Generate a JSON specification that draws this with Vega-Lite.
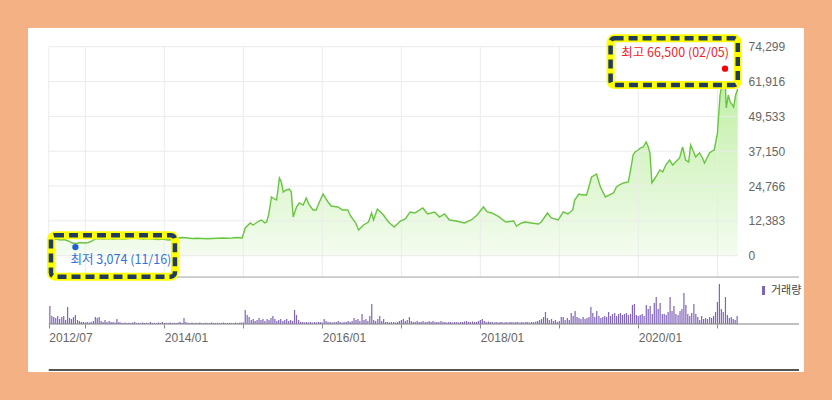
{
  "$schema": "https://vega.github.io/schema/vega-lite/v6.json",
  "width": 776,
  "height": 344,
  "autosize": {"type": "none"},
  "padding": {"left": 28, "top": 28, "right": 28, "bottom": 28},
  "background": "#f4b183",
  "config": {"view": {"fill": "#ffffff", "stroke": null}, "font": "Liberation Sans"},
  "datasets": {
    "price": [
      {"d":"2012-07-16","p":5400},{"d":"2012-08-02","p":5760},{"d":"2012-08-21","p":5940},{"d":"2012-09-08","p":5580},{"d":"2012-09-26","p":5760},{"d":"2012-10-14","p":5230},{"d":"2012-11-02","p":4510},{"d":"2012-11-20","p":4340},{"d":"2012-12-08","p":4690},{"d":"2012-12-27","p":4510},
      {"d":"2013-01-15","p":4690},{"d":"2013-02-02","p":5230},{"d":"2013-02-15","p":5940},{"d":"2013-03-04","p":6110},{"d":"2013-03-27","p":5940},{"d":"2013-04-19","p":6110},{"d":"2013-05-11","p":5940},{"d":"2013-06-04","p":6110},{"d":"2013-06-26","p":5940},{"d":"2013-07-19","p":6110},{"d":"2013-08-11","p":6290},{"d":"2013-09-04","p":6110},{"d":"2013-09-26","p":5940},{"d":"2013-10-19","p":6110},{"d":"2013-11-11","p":5940},{"d":"2013-12-04","p":5760},{"d":"2013-12-27","p":5940},
      {"d":"2014-01-19","p":5580},{"d":"2014-02-10","p":5760},{"d":"2014-03-04","p":6290},{"d":"2014-03-27","p":6470},{"d":"2014-04-19","p":6290},{"d":"2014-05-11","p":6110},{"d":"2014-06-04","p":6190},{"d":"2014-06-26","p":6110},{"d":"2014-07-19","p":6010},{"d":"2014-08-11","p":6110},{"d":"2014-09-04","p":6190},{"d":"2014-09-26","p":6290},{"d":"2014-10-19","p":6190},{"d":"2014-11-11","p":6290},{"d":"2014-12-04","p":6470},{"d":"2014-12-27","p":6290},
      {"d":"2015-01-10","p":9850},{"d":"2015-01-24","p":10910},{"d":"2015-02-02","p":11630},{"d":"2015-02-15","p":10910},{"d":"2015-02-23","p":11270},{"d":"2015-03-08","p":11980},{"d":"2015-03-17","p":12340},{"d":"2015-03-27","p":12690},{"d":"2015-04-10","p":11630},{"d":"2015-04-19","p":11980},{"d":"2015-04-28","p":14470},{"d":"2015-05-02","p":16250},{"d":"2015-05-11","p":20870},{"d":"2015-05-25","p":20160},{"d":"2015-06-04","p":19800},{"d":"2015-06-13","p":25130},{"d":"2015-06-17","p":27620},{"d":"2015-06-26","p":26200},{"d":"2015-07-05","p":22650},{"d":"2015-07-19","p":23360},{"d":"2015-08-02","p":23710},{"d":"2015-08-11","p":22650},{"d":"2015-08-20","p":13760},{"d":"2015-09-04","p":17310},{"d":"2015-09-17","p":18740},{"d":"2015-10-05","p":18020},{"d":"2015-10-19","p":20510},{"d":"2015-11-02","p":18020},{"d":"2015-11-20","p":16250},{"d":"2015-12-04","p":16250},{"d":"2015-12-17","p":18740},
      {"d":"2016-01-05","p":21930},{"d":"2016-01-28","p":19090},{"d":"2016-02-11","p":17670},{"d":"2016-03-13","p":17310},{"d":"2016-04-05","p":16250},{"d":"2016-04-28","p":16250},{"d":"2016-05-11","p":14110},{"d":"2016-06-04","p":11630},{"d":"2016-06-17","p":9140},{"d":"2016-07-10","p":10910},{"d":"2016-08-02","p":11980},{"d":"2016-08-16","p":15180},{"d":"2016-08-25","p":12690},{"d":"2016-09-12","p":16600},{"d":"2016-09-26","p":15540},{"d":"2016-10-10","p":14470},{"d":"2016-11-02","p":11980},{"d":"2016-11-29","p":10200},{"d":"2016-12-27","p":12340},
      {"d":"2017-01-19","p":13050},{"d":"2017-02-10","p":15540},{"d":"2017-03-04","p":15180},{"d":"2017-04-10","p":16960},{"d":"2017-05-02","p":14820},{"d":"2017-06-04","p":15540},{"d":"2017-06-26","p":13760},{"d":"2017-07-19","p":14820},{"d":"2017-08-11","p":12690},{"d":"2017-09-13","p":12340},{"d":"2017-10-19","p":11630},{"d":"2017-11-20","p":12690},{"d":"2017-12-17","p":14470},
      {"d":"2018-01-15","p":17310},{"d":"2018-02-02","p":15540},{"d":"2018-02-23","p":15180},{"d":"2018-03-27","p":13870},{"d":"2018-04-28","p":11980},{"d":"2018-06-04","p":12340},{"d":"2018-06-17","p":10560},{"d":"2018-07-10","p":11630},{"d":"2018-07-28","p":11980},{"d":"2018-08-25","p":11630},{"d":"2018-09-26","p":11270},{"d":"2018-10-10","p":11980},{"d":"2018-11-07","p":15180},{"d":"2018-11-25","p":13400},{"d":"2018-12-27","p":12690},
      {"d":"2019-01-19","p":15540},{"d":"2019-02-10","p":14820},{"d":"2019-03-04","p":16250},{"d":"2019-03-13","p":19800},{"d":"2019-04-01","p":21930},{"d":"2019-04-19","p":21580},{"d":"2019-05-07","p":21580},{"d":"2019-05-30","p":27980},{"d":"2019-06-22","p":29040},{"d":"2019-07-10","p":24420},{"d":"2019-08-02","p":20870},{"d":"2019-08-21","p":21580},{"d":"2019-09-08","p":22290},{"d":"2019-09-22","p":24420},{"d":"2019-10-05","p":25130},{"d":"2019-10-24","p":25850},{"d":"2019-11-16","p":26200},{"d":"2019-11-29","p":31530},{"d":"2019-12-08","p":35800},{"d":"2019-12-17","p":36870},
      {"d":"2020-01-01","p":37580},{"d":"2020-01-10","p":38290},{"d":"2020-01-24","p":38640},{"d":"2020-02-06","p":40420},{"d":"2020-02-15","p":39000},{"d":"2020-02-24","p":36510},{"d":"2020-03-04","p":25850},{"d":"2020-03-13","p":26910},{"d":"2020-03-22","p":27980},{"d":"2020-04-10","p":30470},{"d":"2020-04-23","p":29760},{"d":"2020-05-07","p":32240},{"d":"2020-05-25","p":34020},{"d":"2020-06-08","p":32240},{"d":"2020-06-26","p":33670},{"d":"2020-07-10","p":34730},{"d":"2020-07-24","p":38640},{"d":"2020-08-07","p":34020},{"d":"2020-08-21","p":33310},{"d":"2020-08-30","p":39360},{"d":"2020-09-13","p":36870},{"d":"2020-09-22","p":35090},{"d":"2020-10-10","p":36510},{"d":"2020-10-24","p":34730},{"d":"2020-11-02","p":32960},{"d":"2020-11-16","p":35090},{"d":"2020-11-25","p":36510},{"d":"2020-12-08","p":37220},{"d":"2020-12-17","p":37580},{"d":"2020-12-26","p":41130},
      {"d":"2021-01-01","p":43620},{"d":"2021-01-05","p":48240},{"d":"2021-01-13","p":57130},{"d":"2021-01-19","p":59620},{"d":"2021-01-25","p":61000},{"d":"2021-02-05","p":66500},{"d":"2021-02-09","p":55000},{"d":"2021-02-11","p":52510},{"d":"2021-02-20","p":57130},{"d":"2021-03-01","p":54640},{"d":"2021-03-08","p":53930},{"d":"2021-03-17","p":52860},{"d":"2021-03-26","p":57130},{"d":"2021-04-05","p":59260}
    ],
    "vol": [
      {"d":"2012-07-21","v":1800000},{"d":"2012-07-30","v":800000},{"d":"2012-08-08","v":700000},{"d":"2012-08-17","v":600000},{"d":"2012-08-26","v":800000},{"d":"2012-09-04","v":500000},{"d":"2012-09-14","v":700000},{"d":"2012-09-23","v":800000},{"d":"2012-10-02","v":400000},{"d":"2012-10-11","v":1700000},{"d":"2012-10-20","v":600000},{"d":"2012-10-29","v":500000},{"d":"2012-11-07","v":700000},{"d":"2012-11-16","v":900000},{"d":"2012-11-26","v":400000},{"d":"2012-12-05","v":300000},{"d":"2012-12-14","v":200000},{"d":"2012-12-23","v":200000},
      {"d":"2013-01-01","v":150000},{"d":"2013-01-10","v":200000},{"d":"2013-01-19","v":150000},{"d":"2013-01-28","v":200000},{"d":"2013-02-07","v":300000},{"d":"2013-02-16","v":700000},{"d":"2013-02-25","v":600000},{"d":"2013-03-06","v":700000},{"d":"2013-03-15","v":300000},{"d":"2013-03-24","v":200000},{"d":"2013-04-02","v":400000},{"d":"2013-04-11","v":200000},{"d":"2013-04-21","v":300000},{"d":"2013-04-30","v":200000},{"d":"2013-05-09","v":200000},{"d":"2013-05-18","v":150000},{"d":"2013-05-27","v":500000},{"d":"2013-06-05","v":200000},{"d":"2013-06-14","v":150000},{"d":"2013-06-23","v":100000},{"d":"2013-07-03","v":150000},{"d":"2013-07-12","v":100000},{"d":"2013-07-21","v":120000},{"d":"2013-07-30","v":100000},{"d":"2013-08-08","v":150000},{"d":"2013-08-17","v":200000},{"d":"2013-08-26","v":100000},{"d":"2013-09-04","v":120000},{"d":"2013-09-14","v":100000},{"d":"2013-09-23","v":150000},{"d":"2013-10-02","v":100000},{"d":"2013-10-11","v":120000},{"d":"2013-10-20","v":100000},{"d":"2013-10-29","v":200000},{"d":"2013-11-07","v":100000},{"d":"2013-11-16","v":120000},{"d":"2013-11-26","v":100000},{"d":"2013-12-05","v":150000},{"d":"2013-12-14","v":100000},{"d":"2013-12-23","v":200000},
      {"d":"2014-01-01","v":100000},{"d":"2014-01-10","v":120000},{"d":"2014-01-19","v":100000},{"d":"2014-01-28","v":150000},{"d":"2014-02-07","v":100000},{"d":"2014-02-16","v":120000},{"d":"2014-02-25","v":100000},{"d":"2014-03-06","v":150000},{"d":"2014-03-15","v":200000},{"d":"2014-03-24","v":100000},{"d":"2014-04-02","v":600000},{"d":"2014-04-11","v":200000},{"d":"2014-04-21","v":120000},{"d":"2014-04-30","v":100000},{"d":"2014-05-09","v":150000},{"d":"2014-05-18","v":100000},{"d":"2014-05-27","v":120000},{"d":"2014-06-05","v":100000},{"d":"2014-06-14","v":150000},{"d":"2014-06-23","v":100000},{"d":"2014-07-03","v":100000},{"d":"2014-07-12","v":120000},{"d":"2014-07-21","v":100000},{"d":"2014-07-30","v":100000},{"d":"2014-08-08","v":150000},{"d":"2014-08-17","v":100000},{"d":"2014-08-26","v":100000},{"d":"2014-09-04","v":120000},{"d":"2014-09-14","v":100000},{"d":"2014-09-23","v":100000},{"d":"2014-10-02","v":150000},{"d":"2014-10-11","v":100000},{"d":"2014-10-20","v":100000},{"d":"2014-10-29","v":120000},{"d":"2014-11-07","v":100000},{"d":"2014-11-16","v":100000},{"d":"2014-11-26","v":150000},{"d":"2014-12-05","v":100000},{"d":"2014-12-14","v":120000},{"d":"2014-12-23","v":150000},
      {"d":"2015-01-01","v":150000},{"d":"2015-01-10","v":1400000},{"d":"2015-01-19","v":900000},{"d":"2015-01-28","v":700000},{"d":"2015-02-07","v":400000},{"d":"2015-02-16","v":500000},{"d":"2015-02-25","v":300000},{"d":"2015-03-06","v":400000},{"d":"2015-03-15","v":600000},{"d":"2015-03-24","v":400000},{"d":"2015-04-02","v":500000},{"d":"2015-04-11","v":300000},{"d":"2015-04-21","v":500000},{"d":"2015-04-30","v":400000},{"d":"2015-05-09","v":600000},{"d":"2015-05-18","v":800000},{"d":"2015-05-27","v":500000},{"d":"2015-06-05","v":300000},{"d":"2015-06-14","v":400000},{"d":"2015-06-23","v":500000},{"d":"2015-07-03","v":300000},{"d":"2015-07-12","v":400000},{"d":"2015-07-21","v":500000},{"d":"2015-07-30","v":300000},{"d":"2015-08-08","v":400000},{"d":"2015-08-17","v":300000},{"d":"2015-08-26","v":1400000},{"d":"2015-09-04","v":900000},{"d":"2015-09-14","v":400000},{"d":"2015-09-23","v":200000},{"d":"2015-10-02","v":200000},{"d":"2015-10-11","v":150000},{"d":"2015-10-20","v":200000},{"d":"2015-10-29","v":150000},{"d":"2015-11-07","v":200000},{"d":"2015-11-16","v":150000},{"d":"2015-11-26","v":200000},{"d":"2015-12-05","v":150000},{"d":"2015-12-14","v":200000},{"d":"2015-12-23","v":200000},
      {"d":"2016-01-01","v":150000},{"d":"2016-01-10","v":500000},{"d":"2016-01-19","v":300000},{"d":"2016-01-28","v":200000},{"d":"2016-02-07","v":200000},{"d":"2016-02-16","v":150000},{"d":"2016-02-25","v":200000},{"d":"2016-03-06","v":200000},{"d":"2016-03-15","v":300000},{"d":"2016-03-24","v":200000},{"d":"2016-04-02","v":150000},{"d":"2016-04-11","v":200000},{"d":"2016-04-21","v":200000},{"d":"2016-04-30","v":300000},{"d":"2016-05-09","v":200000},{"d":"2016-05-18","v":300000},{"d":"2016-05-27","v":600000},{"d":"2016-06-05","v":400000},{"d":"2016-06-14","v":500000},{"d":"2016-06-23","v":300000},{"d":"2016-07-03","v":1000000},{"d":"2016-07-12","v":400000},{"d":"2016-07-21","v":500000},{"d":"2016-07-30","v":300000},{"d":"2016-08-08","v":800000},{"d":"2016-08-17","v":2000000},{"d":"2016-08-26","v":400000},{"d":"2016-09-04","v":300000},{"d":"2016-09-14","v":500000},{"d":"2016-09-23","v":800000},{"d":"2016-10-02","v":300000},{"d":"2016-10-11","v":500000},{"d":"2016-10-20","v":200000},{"d":"2016-10-29","v":200000},{"d":"2016-11-07","v":150000},{"d":"2016-11-16","v":200000},{"d":"2016-11-26","v":200000},{"d":"2016-12-05","v":150000},{"d":"2016-12-14","v":200000},{"d":"2016-12-23","v":300000},
      {"d":"2017-01-01","v":400000},{"d":"2017-01-10","v":500000},{"d":"2017-01-19","v":300000},{"d":"2017-01-28","v":400000},{"d":"2017-02-07","v":700000},{"d":"2017-02-16","v":300000},{"d":"2017-02-25","v":200000},{"d":"2017-03-06","v":200000},{"d":"2017-03-15","v":300000},{"d":"2017-03-24","v":200000},{"d":"2017-04-02","v":200000},{"d":"2017-04-11","v":300000},{"d":"2017-04-21","v":200000},{"d":"2017-04-30","v":200000},{"d":"2017-05-09","v":300000},{"d":"2017-05-18","v":200000},{"d":"2017-05-27","v":300000},{"d":"2017-06-05","v":200000},{"d":"2017-06-14","v":200000},{"d":"2017-06-23","v":200000},{"d":"2017-07-03","v":300000},{"d":"2017-07-12","v":200000},{"d":"2017-07-21","v":200000},{"d":"2017-07-30","v":150000},{"d":"2017-08-08","v":200000},{"d":"2017-08-17","v":200000},{"d":"2017-08-26","v":150000},{"d":"2017-09-04","v":200000},{"d":"2017-09-14","v":200000},{"d":"2017-09-23","v":150000},{"d":"2017-10-02","v":200000},{"d":"2017-10-11","v":200000},{"d":"2017-10-20","v":250000},{"d":"2017-10-29","v":300000},{"d":"2017-11-07","v":200000},{"d":"2017-11-16","v":200000},{"d":"2017-11-26","v":250000},{"d":"2017-12-05","v":200000},{"d":"2017-12-14","v":200000},{"d":"2017-12-23","v":300000},
      {"d":"2018-01-01","v":400000},{"d":"2018-01-10","v":500000},{"d":"2018-01-19","v":300000},{"d":"2018-01-28","v":200000},{"d":"2018-02-07","v":250000},{"d":"2018-02-16","v":200000},{"d":"2018-02-25","v":200000},{"d":"2018-03-06","v":150000},{"d":"2018-03-15","v":200000},{"d":"2018-03-24","v":150000},{"d":"2018-04-02","v":200000},{"d":"2018-04-11","v":200000},{"d":"2018-04-21","v":150000},{"d":"2018-04-30","v":200000},{"d":"2018-05-09","v":150000},{"d":"2018-05-18","v":200000},{"d":"2018-05-27","v":200000},{"d":"2018-06-05","v":150000},{"d":"2018-06-14","v":200000},{"d":"2018-06-23","v":200000},{"d":"2018-07-03","v":150000},{"d":"2018-07-12","v":200000},{"d":"2018-07-21","v":150000},{"d":"2018-07-30","v":200000},{"d":"2018-08-08","v":200000},{"d":"2018-08-17","v":150000},{"d":"2018-08-26","v":200000},{"d":"2018-09-04","v":200000},{"d":"2018-09-14","v":250000},{"d":"2018-09-23","v":300000},{"d":"2018-10-02","v":400000},{"d":"2018-10-11","v":500000},{"d":"2018-10-20","v":700000},{"d":"2018-10-29","v":1200000},{"d":"2018-11-07","v":600000},{"d":"2018-11-16","v":400000},{"d":"2018-11-26","v":500000},{"d":"2018-12-05","v":300000},{"d":"2018-12-14","v":400000},{"d":"2018-12-23","v":200000},
      {"d":"2019-01-01","v":300000},{"d":"2019-01-10","v":700000},{"d":"2019-01-19","v":700000},{"d":"2019-01-28","v":400000},{"d":"2019-02-07","v":600000},{"d":"2019-02-16","v":400000},{"d":"2019-02-25","v":1100000},{"d":"2019-03-06","v":800000},{"d":"2019-03-15","v":1300000},{"d":"2019-03-24","v":700000},{"d":"2019-04-02","v":600000},{"d":"2019-04-11","v":500000},{"d":"2019-04-21","v":700000},{"d":"2019-04-30","v":500000},{"d":"2019-05-09","v":600000},{"d":"2019-05-18","v":700000},{"d":"2019-05-27","v":1700000},{"d":"2019-06-05","v":1100000},{"d":"2019-06-14","v":700000},{"d":"2019-06-23","v":1300000},{"d":"2019-07-03","v":800000},{"d":"2019-07-12","v":600000},{"d":"2019-07-21","v":700000},{"d":"2019-07-30","v":800000},{"d":"2019-08-08","v":700000},{"d":"2019-08-17","v":1200000},{"d":"2019-08-26","v":800000},{"d":"2019-09-04","v":1000000},{"d":"2019-09-14","v":1100000},{"d":"2019-09-23","v":800000},{"d":"2019-10-02","v":1000000},{"d":"2019-10-11","v":1100000},{"d":"2019-10-20","v":900000},{"d":"2019-10-29","v":1000000},{"d":"2019-11-07","v":1100000},{"d":"2019-11-16","v":900000},{"d":"2019-11-26","v":1000000},{"d":"2019-12-05","v":1900000},{"d":"2019-12-14","v":2000000},{"d":"2019-12-23","v":900000},
      {"d":"2020-01-01","v":800000},{"d":"2020-01-10","v":900000},{"d":"2020-01-19","v":1000000},{"d":"2020-01-28","v":800000},{"d":"2020-02-07","v":1900000},{"d":"2020-02-16","v":1500000},{"d":"2020-02-25","v":1800000},{"d":"2020-03-06","v":1000000},{"d":"2020-03-15","v":2100000},{"d":"2020-03-24","v":2700000},{"d":"2020-04-02","v":1500000},{"d":"2020-04-11","v":2100000},{"d":"2020-04-21","v":1000000},{"d":"2020-04-30","v":1000000},{"d":"2020-05-09","v":900000},{"d":"2020-05-18","v":1200000},{"d":"2020-05-27","v":2700000},{"d":"2020-06-05","v":1300000},{"d":"2020-06-14","v":1800000},{"d":"2020-06-23","v":1000000},{"d":"2020-07-03","v":900000},{"d":"2020-07-12","v":1300000},{"d":"2020-07-21","v":1500000},{"d":"2020-07-30","v":3100000},{"d":"2020-08-08","v":1900000},{"d":"2020-08-17","v":1000000},{"d":"2020-08-26","v":800000},{"d":"2020-09-04","v":1100000},{"d":"2020-09-14","v":2000000},{"d":"2020-09-23","v":1000000},{"d":"2020-10-02","v":700000},{"d":"2020-10-11","v":400000},{"d":"2020-10-20","v":800000},{"d":"2020-10-29","v":500000},{"d":"2020-11-07","v":600000},{"d":"2020-11-16","v":500000},{"d":"2020-11-26","v":700000},{"d":"2020-12-05","v":600000},{"d":"2020-12-14","v":800000},{"d":"2020-12-23","v":1200000},
      {"d":"2021-01-01","v":2200000},{"d":"2021-01-10","v":4000000},{"d":"2021-01-19","v":1500000},{"d":"2021-01-28","v":1200000},{"d":"2021-02-07","v":2700000},{"d":"2021-02-16","v":900000},{"d":"2021-02-25","v":600000},{"d":"2021-03-06","v":700000},{"d":"2021-03-15","v":500000},{"d":"2021-03-24","v":400000},{"d":"2021-04-02","v":800000}
    ],
    "gridH": [
      {"d":"2012-07-16","d2":"2021-04-06","p":0},{"d":"2012-07-16","d2":"2021-04-06","p":12383},{"d":"2012-07-16","d2":"2021-04-06","p":24766},{"d":"2012-07-16","d2":"2021-04-06","p":37150},{"d":"2012-07-16","d2":"2021-04-06","p":49533},{"d":"2012-07-16","d2":"2021-04-06","p":61916},{"d":"2012-07-16","d2":"2021-04-06","p":74299}
    ],
    "gridV": [
      {"d":"2012-07-16"},{"d":"2013-01-01"},{"d":"2014-01-01"},{"d":"2015-01-01"},{"d":"2016-01-01"},{"d":"2017-01-01"},{"d":"2018-01-01"},{"d":"2019-01-01"},{"d":"2020-01-01"},{"d":"2021-01-01"}
    ],
    "divider": [{"d":"2012-07-16","d2":"2022-01-13","p":-7583}],
    "footer": [{"d":"2012-07-16","d2":"2022-01-13","p":-40634}],
    "volBase": [{"d":"2012-07-16","d2":"2022-01-13","v":0}],
    "boxes": [
      {"name":"max","d":"2019-08-26","d2":"2021-04-05","p":77286,"p2":60684},
      {"name":"min","d":"2012-07-26","d2":"2014-02-19","p":7252,"p2":-7466}
    ],
    "ext": [
      {"name":"max","d":"2021-02-05","p":66500,"label":"최고 66,500 (02/05)"},
      {"name":"min","d":"2012-11-16","p":3074,"label":"최저 3,074 (11/16)"}
    ]
  },
  "encoding": {
    "x": {
      "field": "d",
      "type": "temporal",
      "scale": {"domain": [{"year":2012,"month":5,"date":4},{"year":2022,"month":1,"date":13}], "nice": false},
      "axis": {
        "title": null,
        "orient": "bottom",
        "offset": -48,
        "domain": false,
        "grid": false,
        "values": [{"year":2012,"month":7,"date":16},{"year":2013,"month":1,"date":1},{"year":2014,"month":1,"date":1},{"year":2015,"month":1,"date":1},{"year":2016,"month":1,"date":1},{"year":2017,"month":1,"date":1},{"year":2018,"month":1,"date":1},{"year":2019,"month":1,"date":1},{"year":2020,"month":1,"date":1},{"year":2021,"month":1,"date":1}],
        "labelExpr": "(month(datum.value) == 0 && year(datum.value) % 2 == 1) ? '' : timeFormat(datum.value, '%Y/%m')",
        "tickSize": 4,
        "tickColor": "#888888",
        "labelAlign": "left",
        "labelBaseline": "top",
        "labelPadding": 4,
        "labelFont": "Liberation Sans",
        "labelFontSize": 12,
        "labelColor": "#666666",
        "labelFlush": false,
        "labelOverlap": false,
        "labelBound": false
      }
    }
  },
  "layer": [
    {
      "data": {"name": "price"},
      "mark": {"type": "area", "color": {"gradient": "linear", "x1": 0, "y1": 0, "x2": 0, "y2": 1, "stops": [{"offset": 0, "color": "#bdeea0"}, {"offset": 1, "color": "#f4fcf0"}]}},
      "encoding": {
        "y": {"field": "p", "type": "quantitative", "scale": {"domain": [-41343, 80944], "nice": false, "zero": false}, "axis": null},
        "y2": {"datum": 0}
      }
    },
    {
      "data": {"name": "gridH"},
      "mark": {"type": "rule", "color": "#ebebeb", "strokeWidth": 1},
      "encoding": {
        "x2": {"field": "d2"},
        "y": {"field": "p", "type": "quantitative", "scale": {"domain": [-41343, 80944], "nice": false, "zero": false},
          "axis": {"title": null, "orient": "right", "offset": -62, "values": [0, 12383, 24766, 37150, 49533, 61916, 74299], "format": ",d", "domain": false, "ticks": false, "tickSize": 0, "grid": false, "labelPadding": 6, "labelFont": "Liberation Sans", "labelFontSize": 12, "labelColor": "#666666", "labelFlush": false, "labelOverlap": false}}
      }
    },
    {
      "data": {"name": "gridV"},
      "mark": {"type": "rule", "color": "#ebebeb", "strokeWidth": 1},
      "encoding": {
        "y": {"datum": -7583, "type": "quantitative", "scale": {"domain": [-41343, 80944], "nice": false, "zero": false}, "axis": null},
        "y2": {"datum": 74299}
      }
    },
    {
      "data": {"name": "price"},
      "mark": {"type": "line", "color": "#68c53f", "strokeWidth": 1.4},
      "encoding": {
        "y": {"field": "p", "type": "quantitative", "scale": {"domain": [-41343, 80944], "nice": false, "zero": false}, "axis": null}
      }
    },
    {
      "data": {"name": "divider"},
      "mark": {"type": "rule", "color": "#a0a0a0", "strokeWidth": 1},
      "encoding": {
        "x2": {"field": "d2"},
        "y": {"field": "p", "type": "quantitative", "scale": {"domain": [-41343, 80944], "nice": false, "zero": false}, "axis": null}
      }
    },
    {
      "data": {"name": "footer"},
      "mark": {"type": "rule", "color": "#555555", "strokeWidth": 2},
      "encoding": {
        "x2": {"field": "d2"},
        "y": {"field": "p", "type": "quantitative", "scale": {"domain": [-41343, 80944], "nice": false, "zero": false}, "axis": null}
      }
    },
    {
      "data": {"name": "vol"},
      "mark": {"type": "bar", "width": 1.2},
      "encoding": {
        "y": {"field": "v", "type": "quantitative", "scale": {"domain": [-4800000, 29600000], "nice": false, "zero": false}, "axis": null},
        "y2": {"datum": 0},
        "color": {"datum": "거래량", "type": "nominal", "scale": {"range": ["#8063bb"]},
          "legend": {"orient": "none", "legendX": 730, "legendY": 257, "title": null, "symbolType": "M-0.33,-1H0.33V1H-0.33Z", "symbolSize": 81, "symbolStrokeWidth": 0, "labelFont": "Noto Sans CJK KR", "labelFontSize": 11, "labelColor": "#444444", "labelOffset": 2, "padding": 0}}
      }
    },
    {
      "data": {"name": "volBase"},
      "mark": {"type": "rule", "color": "#808080", "strokeWidth": 1},
      "encoding": {
        "x2": {"field": "d2"},
        "y": {"field": "v", "type": "quantitative", "scale": {"domain": [-4800000, 29600000], "nice": false, "zero": false}, "axis": null}
      }
    },
    {
      "data": {"name": "boxes"},
      "mark": {"type": "rect", "stroke": "#ffff00", "strokeWidth": 8, "cornerRadius": 4},
      "encoding": {
        "x2": {"field": "d2"},
        "y": {"field": "p", "type": "quantitative", "scale": {"domain": [-41343, 80944], "nice": false, "zero": false}, "axis": null},
        "y2": {"field": "p2"},
        "fill": {"condition": {"test": "datum.name === 'max'", "value": "#ffffff"}, "value": "transparent"}
      }
    },
    {
      "data": {"name": "boxes"},
      "mark": {"type": "rect", "fill": "transparent", "stroke": "#203a60", "strokeWidth": 4.5, "strokeDash": [9, 5], "cornerRadius": 4},
      "encoding": {
        "x2": {"field": "d2"},
        "y": {"field": "p", "type": "quantitative", "scale": {"domain": [-41343, 80944], "nice": false, "zero": false}, "axis": null},
        "y2": {"field": "p2"}
      }
    },
    {
      "data": {"name": "ext"},
      "mark": {"type": "point", "filled": true, "size": 40, "opacity": 1},
      "encoding": {
        "y": {"field": "p", "type": "quantitative", "scale": {"domain": [-41343, 80944], "nice": false, "zero": false}, "axis": null},
        "fill": {"condition": {"test": "datum.name === 'max'", "value": "#ff0000"}, "value": "#1b5fd3"}
      }
    },
    {
      "data": {"name": "ext"},
      "transform": [{"filter": "datum.name === 'max'"}],
      "mark": {"type": "text", "align": "right", "baseline": "middle", "dx": 4, "dy": -15.5, "font": "Noto Sans CJK KR", "fontSize": 12.5, "color": "#f2212b"},
      "encoding": {
        "y": {"field": "p", "type": "quantitative", "scale": {"domain": [-41343, 80944], "nice": false, "zero": false}, "axis": null},
        "text": {"field": "label"}
      }
    },
    {
      "data": {"name": "ext"},
      "transform": [{"filter": "datum.name === 'min'"}],
      "mark": {"type": "text", "align": "left", "baseline": "middle", "dx": -5, "dy": 13, "font": "Noto Sans CJK KR", "fontSize": 12.5, "color": "#3173d9"},
      "encoding": {
        "y": {"field": "p", "type": "quantitative", "scale": {"domain": [-41343, 80944], "nice": false, "zero": false}, "axis": null},
        "text": {"field": "label"}
      }
    }
  ],
  "resolve": {"scale": {"y": "independent"}}
}
